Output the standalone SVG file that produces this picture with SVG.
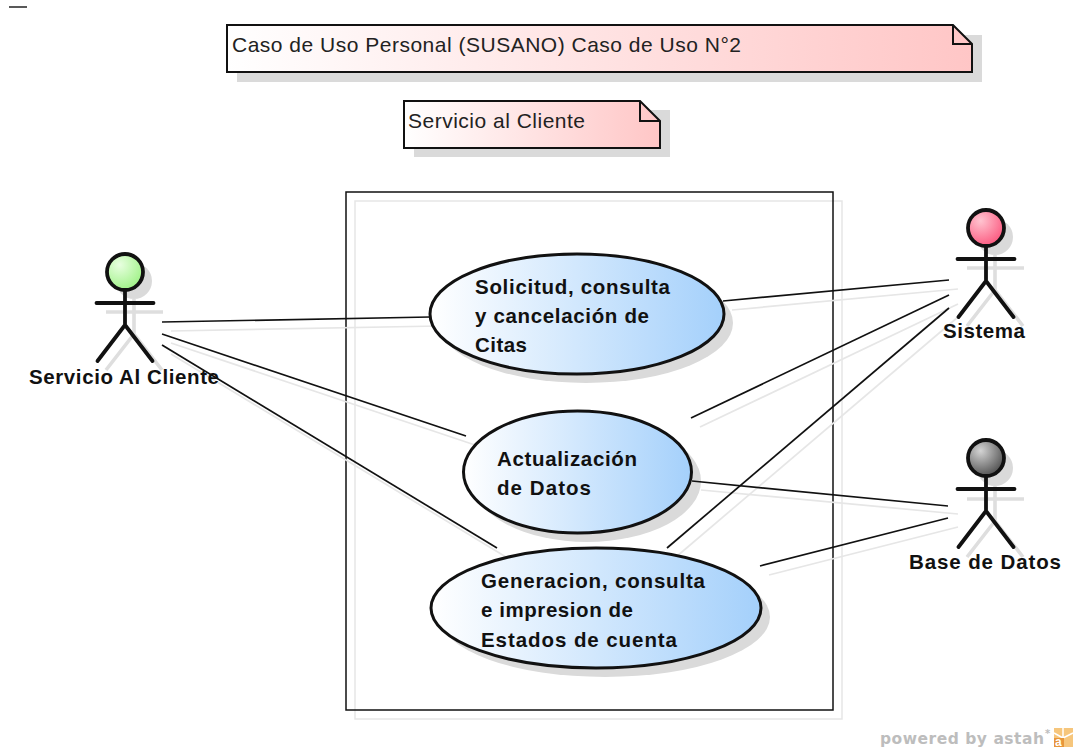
<svg xmlns="http://www.w3.org/2000/svg" width="1078" height="750" viewBox="0 0 1078 750">
<style>
.n{font-family:"Liberation Sans",Arial,sans-serif;font-size:21px;fill:#222}
.b{font-family:"Liberation Sans",Arial,sans-serif;font-size:20.500px;font-weight:bold;fill:#111}
.c{stroke:#111;stroke-width:1.7;fill:none}
.cs{stroke:#e6e6e6;stroke-width:1.7;fill:none}
.sh{fill:#dadada;stroke:none}
.ol{stroke:#111;stroke-width:2;stroke-linejoin:miter}
.uc{stroke:#111;stroke-width:3}
.a{stroke:#111;stroke-width:3.800;fill:none;stroke-linecap:round}
.as{stroke:#dedede;stroke-width:3.600;fill:none}
.h{stroke:#111;stroke-width:3.800}
</style>
<defs>
<linearGradient id="gn"><stop offset="0" stop-color="#fff"/><stop offset="1" stop-color="#ffc6c6"/></linearGradient>
<linearGradient id="gu"><stop offset="0" stop-color="#fff"/><stop offset="1" stop-color="#a4d0fb"/></linearGradient>
<radialGradient id="gg" cx=".35" cy=".3" r=".8"><stop offset="0" stop-color="#e8ffe0"/><stop offset="1" stop-color="#98f07e"/></radialGradient>
<radialGradient id="gp" cx=".35" cy=".3" r=".8"><stop offset="0" stop-color="#ffc4d0"/><stop offset="1" stop-color="#fb4f78"/></radialGradient>
<radialGradient id="gd" cx=".35" cy=".3" r=".85"><stop offset="0" stop-color="#d4d4d4"/><stop offset="1" stop-color="#3c3c3c"/></radialGradient>
<g id="fig-shadow">
<circle cx="0" cy="0" r="18" class="sh"/>
<path d="M0 18V53M-28 31H29M0 53L-28 89M0 53L28 89" class="as"/>
</g>
<g id="fig">
<path d="M0 18V53M-28.500 31H28.500M0 53L-27.500 89M0 53L27.500 89" class="a"/>
</g>
</defs>
<rect width="1078" height="750" fill="#fff"/>
<line x1="9" y1="7" x2="27" y2="7" stroke="#222" stroke-width="1.500"/>

<g id="note-title">
<path d="M237 35H982V82H237Z" class="sh"/>
<path d="M227 25H953L972 44V72H227Z" fill="url(#gn)" class="ol"/>
<path d="M953 25V44H972" fill="none" class="ol"/>
<text class="n" x="232" y="52" textLength="509">Caso de Uso Personal (SUSANO) Caso de Uso N°2</text>
</g>
<g id="note-subtitle">
<path d="M414 110H670V157H414Z" class="sh"/>
<path d="M404 101H640L660 121V148H404Z" fill="url(#gn)" class="ol"/>
<path d="M640 101V121H660" fill="none" class="ol"/>
<text class="n" x="408" y="128" textLength="177">Servicio al Cliente</text>
</g>

<g id="system-boundary">
<rect x="355" y="201" width="487" height="518" fill="none" stroke="#e6e6e6" stroke-width="1.500"/>
<rect x="346" y="192" width="487" height="518" fill="none" stroke="#111" stroke-width="1.500"/>
</g>

<g id="connector-shadows" class="cs">
<line x1="171" y1="331" x2="439" y2="326"/>
<line x1="171" y1="343" x2="475" y2="445"/>
<line x1="171" y1="354" x2="506" y2="557"/>
<line x1="732" y1="310" x2="958" y2="289"/>
<line x1="700" y1="427" x2="958" y2="304"/>
<line x1="676" y1="557" x2="958" y2="317"/>
<line x1="701" y1="490" x2="958" y2="514"/>
<line x1="769" y1="575" x2="958" y2="527"/>
</g>

<g id="usecase-shadows">
<ellipse cx="586" cy="323" rx="147" ry="60" class="sh"/>
<ellipse cx="587" cy="481" rx="114" ry="61" class="sh"/>
<ellipse cx="605" cy="617" rx="165" ry="60" class="sh"/>
</g>

<g id="connectors" class="c">
<line x1="162" y1="322" x2="430" y2="317"/>
<line x1="162" y1="334" x2="466" y2="436"/>
<line x1="162" y1="345" x2="497" y2="548"/>
<line x1="723" y1="301" x2="949" y2="280"/>
<line x1="691" y1="418" x2="949" y2="295"/>
<line x1="667" y1="548" x2="949" y2="308"/>
<line x1="692" y1="481" x2="948" y2="506"/>
<line x1="760" y1="566" x2="948" y2="518"/>
</g>

<g id="uc-citas">
<ellipse cx="577" cy="314" rx="147" ry="60" fill="url(#gu)" class="uc"/>
<text class="b" x="475" y="294" textLength="195">Solicitud, consulta</text>
<text class="b" x="475" y="323" textLength="174">y cancelación de</text>
<text class="b" x="475" y="352" textLength="52">Citas</text>
</g>
<g id="uc-datos">
<ellipse cx="577.500" cy="472" rx="114" ry="61" fill="url(#gu)" class="uc"/>
<text class="b" x="497" y="466" textLength="140">Actualización</text>
<text class="b" x="497" y="495" textLength="94">de Datos</text>
</g>
<g id="uc-estados">
<ellipse cx="596" cy="608" rx="165" ry="60" fill="url(#gu)" class="uc"/>
<text class="b" x="481" y="588" textLength="224">Generacion, consulta</text>
<text class="b" x="481" y="617" textLength="152">e impresion de</text>
<text class="b" x="481" y="647" textLength="196">Estados de cuenta</text>
</g>

<g id="actor-servicio">
<use href="#fig-shadow" x="134" y="281"/>
<use href="#fig" x="125" y="272"/>
<circle cx="125" cy="272" r="18" fill="url(#gg)" class="h"/>
<text class="b" x="29" y="384" textLength="190">Servicio Al Cliente</text>
</g>
<g id="actor-sistema">
<use href="#fig-shadow" x="995" y="237"/>
<use href="#fig" x="986" y="228"/>
<circle cx="986" cy="228" r="18" fill="url(#gp)" class="h"/>
<text class="b" x="943" y="338" textLength="82">Sistema</text>
</g>
<g id="actor-base">
<use href="#fig-shadow" x="995" y="468"/>
<use href="#fig" x="986" y="458"/>
<circle cx="986" cy="458" r="18" fill="url(#gd)" class="h"/>
<text class="b" x="909" y="569" textLength="152">Base de Datos</text>
</g>

<g id="watermark">
<text x="880" y="744" font-family="'DejaVu Sans',sans-serif" font-size="15.500" font-weight="bold" fill="#bdbdbd" textLength="164">powered by astah</text>
<text x="1045" y="737" font-family="'DejaVu Sans',sans-serif" font-size="10" font-weight="bold" fill="#bdbdbd">*</text>
<rect x="1054" y="728" width="19" height="19" fill="#f6c67c"/>
<path d="M1063 728V738M1054 733L1063 738M1073 733L1063 738" stroke="#fff" stroke-width="1.500" fill="none"/>
<rect x="1054" y="738" width="10" height="9" fill="#e8963a"/>
<text x="1055" y="746" font-family="'Liberation Sans',sans-serif" font-size="12" font-weight="bold" fill="#fff">a</text>
</g>
</svg>
